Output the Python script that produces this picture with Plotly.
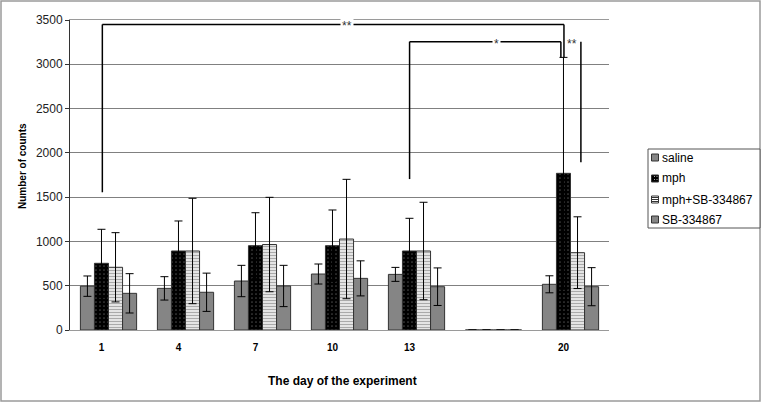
import plotly.graph_objects as go

days = ["1", "4", "7", "10", "13", "", "20"]
series_names = ["saline", "mph", "mph+SB-334867", "SB-334867"]

saline = [495, 470, 553, 632, 628, 0, 516]
saline_err = [115, 132, 177, 113, 79, 0, 96]
mph = [753, 892, 952, 952, 892, 0, 1769]
mph_err = [384, 339, 372, 403, 369, 0, 1309]
mph_sb = [708, 892, 965, 1027, 892, 0, 873]
mph_sb_err = [391, 595, 533, 674, 550, 0, 405]
sb = [414, 426, 497, 583, 489, 0, 489]
sb_err = [222, 216, 233, 198, 212, 0, 215]

xpos = list(range(len(days)))

W, H = 761, 402
ml, mr, mt, mb = 70, 152, 20, 72
pw, ph = W - ml - mr, H - mt - mb


def px(xp):
    return (xp - ml) / pw


def py(yp):
    return (ph + mt - yp) / ph


fig = go.Figure()
line_col = "#333333"
err = dict(type="data", visible=True, color="black", thickness=1, width=4)

mph_pattern = dict(shape=".", bgcolor="black", fgcolor="#8a8a8a", size=4, solidity=0.15)
sb_pattern = dict(shape="-", bgcolor="white", fgcolor="#555555", size=3, solidity=0.55)

fig.add_trace(go.Bar(x=xpos, y=saline, name=series_names[0], showlegend=False,
                     error_y=dict(array=saline_err, **err),
                     marker=dict(color="#858585", line=dict(color=line_col, width=1))))
fig.add_trace(go.Bar(x=xpos, y=mph, name=series_names[1], showlegend=False,
                     error_y=dict(array=mph_err, **err),
                     marker=dict(color="black", line=dict(color=line_col, width=1),
                                 pattern=mph_pattern)))
fig.add_trace(go.Bar(x=xpos, y=mph_sb, name=series_names[2], showlegend=False,
                     error_y=dict(array=mph_sb_err, **err),
                     marker=dict(color="white", line=dict(color=line_col, width=1),
                                 pattern=sb_pattern)))
fig.add_trace(go.Bar(x=xpos, y=sb, name=series_names[3], showlegend=False,
                     error_y=dict(array=sb_err, **err),
                     marker=dict(color="#858585", line=dict(color=line_col, width=1))))

# significance brackets (data coordinates)
bk = dict(color="black", width=1.5)
shapes = [
    dict(type="line", x0=-0.08, x1=-0.08, y0=1555, y1=3450, line=bk),
    dict(type="line", x0=-0.08, x1=5.915, y0=3450, y1=3450, line=bk),
    dict(type="line", x0=5.915, x1=5.915, y0=3450, y1=3078, line=bk),
    dict(type="line", x0=3.91, x1=3.91, y0=1704, y1=3255, line=bk),
    dict(type="line", x0=3.91, x1=5.875, y0=3255, y1=3255, line=bk),
    dict(type="line", x0=5.875, x1=5.875, y0=3255, y1=3078, line=bk),
    dict(type="line", x0=6.135, x1=6.135, y0=3255, y1=1893, line=bk),
]

# outer frame
shapes.append(dict(type="rect", xref="paper", yref="paper",
                   x0=px(1), x1=px(W - 1), y0=py(H - 1), y1=py(1),
                   line=dict(color="#9a9a9a", width=1.5), layer="below"))

annotations = [
    dict(x=3.10, y=3450, text="**", showarrow=False, bgcolor="white",
         font=dict(size=12, color="#333"), yshift=-2),
    dict(x=5.045, y=3255, text="*", showarrow=False, bgcolor="white",
         font=dict(size=12, color="#333"), yshift=-2),
    dict(x=6.025, y=3255, text="**", showarrow=False,
         font=dict(size=12, color="#333"), yshift=-2),
    # axis titles
    dict(xref="paper", yref="paper", x=px(22), y=py(166), textangle=-90,
         xanchor="center", yanchor="middle",
         text="<b>Number of counts</b>", showarrow=False, font=dict(size=10, color="black")),
    dict(xref="paper", yref="paper", x=px(343), y=py(381),
         xanchor="center", yanchor="middle",
         text="<b>The day of the experiment</b>", showarrow=False,
         font=dict(size=12, color="black")),
]

# legend box (drawn manually so it sits exactly where the original does)
shapes.append(dict(type="rect", xref="paper", yref="paper",
                   x0=px(648), x1=px(760), y0=py(228), y1=py(149),
                   line=dict(color="#555555", width=1), fillcolor="white"))
leg_y = [157.5, 178.5, 199.5, 219.5]
swatch = [dict(fillcolor="#858585"), dict(fillcolor="black"),
          dict(fillcolor="white"), dict(fillcolor="#858585")]
for i, name in enumerate(series_names):
    yc = leg_y[i]
    shapes.append(dict(type="rect", xref="paper", yref="paper",
                       x0=px(651.5), x1=px(658.5), y0=py(yc + 3.5), y1=py(yc - 3.5),
                       line=dict(color="#333", width=1), **swatch[i]))
    annotations.append(dict(xref="paper", yref="paper", x=px(660), y=py(yc),
                            xanchor="left", yanchor="middle", text=name, showarrow=False,
                            font=dict(size=12, color="black")))
for k in range(3):
    shapes.append(dict(type="line", xref="paper", yref="paper",
                       x0=px(652), x1=px(658), y0=py(197.5 + 2 * k), y1=py(197.5 + 2 * k),
                       line=dict(color="#333", width=1)))
for dx in (654, 656.5):
    for dy in (176.5, 179.5):
        shapes.append(dict(type="rect", xref="paper", yref="paper",
                           x0=px(dx), x1=px(dx + 1), y0=py(dy + 0.5), y1=py(dy - 0.5),
                           line=dict(width=0), fillcolor="#aaaaaa"))

fig.update_layout(
    width=W, height=H,
    margin=dict(l=ml, r=mr, t=mt, b=mb, autoexpand=False),
    paper_bgcolor="white", plot_bgcolor="white",
    font=dict(family="Arial, Liberation Sans, sans-serif", size=11, color="black"),
    barmode="group", bargap=0.27, bargroupgap=0,
    showlegend=False,
    shapes=shapes, annotations=annotations,
)
fig.update_xaxes(range=[-0.5, 6.5], tickmode="array",
                 tickvals=[i - 0.09 for i in xpos],
                 ticktext=[f"<b>{d}</b>" if d else "" for d in days],
                 tickfont=dict(size=10, family="Arial, Liberation Sans, sans-serif"),
                 showgrid=False, zeroline=False, ticks="", ticklabelstandoff=8,
                 showline=True, linecolor="#9a9a9a", mirror=True)
fig.update_yaxes(range=[0, 3500], dtick=500, showgrid=True, gridcolor="#808080", gridwidth=1,
                 zeroline=False, ticks="outside", ticklen=4, tickcolor="#333",
                 showline=True, linecolor="#333333", tickfont=dict(size=12, color="#222"))

fig.write_html("out.html", config={"displayModeBar": False},
               post_script="document.body.style.margin='0';document.body.style.overflow='hidden';")
